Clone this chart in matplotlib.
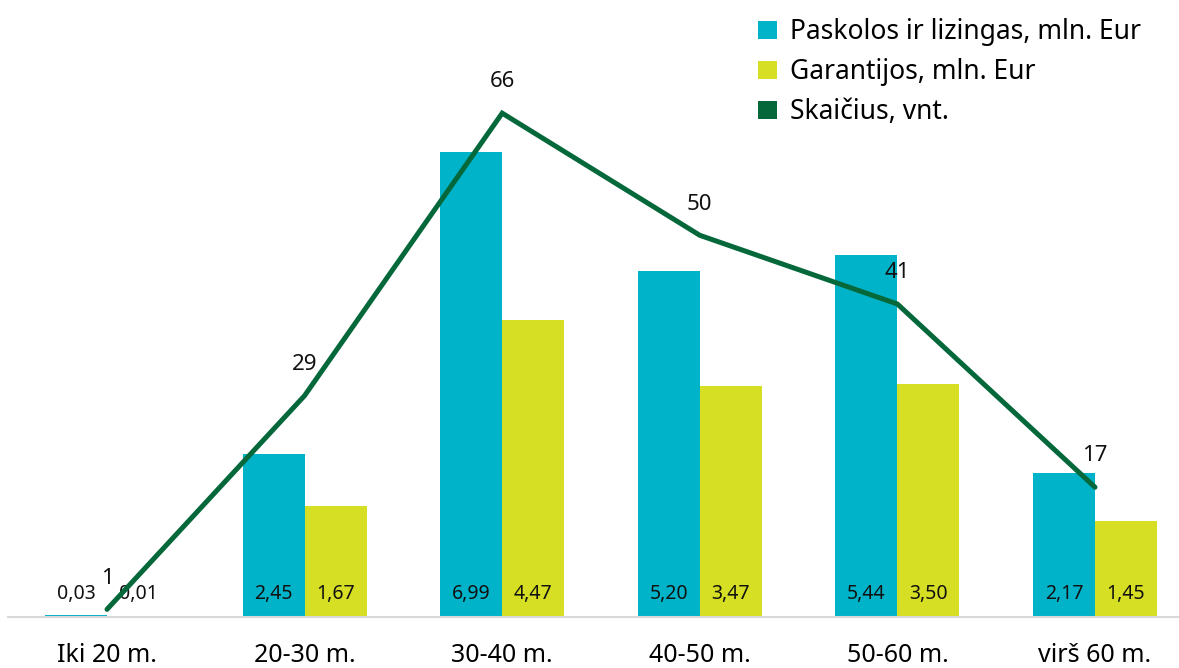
import matplotlib.pyplot as plt
from matplotlib.patches import Patch
import numpy as np

plt.rcParams['font.family'] = ['Noto Sans', 'DejaVu Sans']

categories = ["Iki 20 m.", "20-30 m.", "30-40 m.", "40-50 m.", "50-60 m.", "virš 60 m."]
paskolos = [0.03, 2.45, 6.99, 5.20, 5.44, 2.17]
garantijos = [0.01, 1.67, 4.47, 3.47, 3.50, 1.45]
skaicius = [1, 29, 66, 50, 41, 17]

c_teal = "#00B3C9"
c_yellow = "#D6DF23"
c_green = "#05683B"

W, H = 1179, 668
fig = plt.figure(figsize=(W / 100, H / 100), dpi=100)
ax = fig.add_axes([8.2 / W, (H - 617) / H, 1185.6 / W, 598.5 / H])
ax2 = ax.twinx()

x = np.arange(len(categories))
bw = 0.314
ax.bar(x - bw / 2, paskolos, bw, color=c_teal, zorder=2)
ax.bar(x + bw / 2, garantijos, bw, color=c_yellow, zorder=2)

# reikšmės stulpelių apačioje
for xi, v in zip(x, paskolos):
    ax.text(xi - bw / 2, 0.34, f"{v:.2f}".replace(".", ","), ha="center", va="center", fontsize=14, color="#111111", zorder=3)
for xi, v in zip(x, garantijos):
    ax.text(xi + bw / 2, 0.34, f"{v:.2f}".replace(".", ","), ha="center", va="center", fontsize=14, color="#111111", zorder=3)

ax.set_xlim(-0.5, len(categories) - 0.5)
ax.set_ylim(0, 9)
ax2.set_ylim(0, 78.4)

ax2.plot(x, skaicius, color=c_green, lw=3.6, solid_capstyle="round", solid_joinstyle="miter", zorder=4)
for xi, v in zip(x, skaicius):
    ax2.text(xi, v + 4.1, str(v), ha="center", va="center", fontsize=16, color="#111111")

for a in (ax, ax2):
    for s in a.spines.values():
        s.set_visible(False)
    a.set_yticks([])
ax.spines["bottom"].set_visible(True)
ax.spines["bottom"].set_color("#D9D9D9")
ax.spines["bottom"].set_linewidth(1.5)
ax.set_xticks(x)
ax.set_xticklabels(categories, fontsize=18)
ax.tick_params(axis="x", length=0, pad=19)

handles = [
    Patch(facecolor=c_teal, label="Paskolos ir lizingas, mln. Eur"),
    Patch(facecolor=c_yellow, label="Garantijos, mln. Eur"),
    Patch(facecolor=c_green, label="Skaičius, vnt."),
]
fig.legend(handles=handles, loc="upper left", bbox_to_anchor=(740 / W, 1.0), frameon=False,
           fontsize=19, handlelength=0.7, handleheight=0.7, handletextpad=0.5, labelspacing=0.45,
           borderaxespad=0.3)

fig.savefig("out.png", dpi=100)
